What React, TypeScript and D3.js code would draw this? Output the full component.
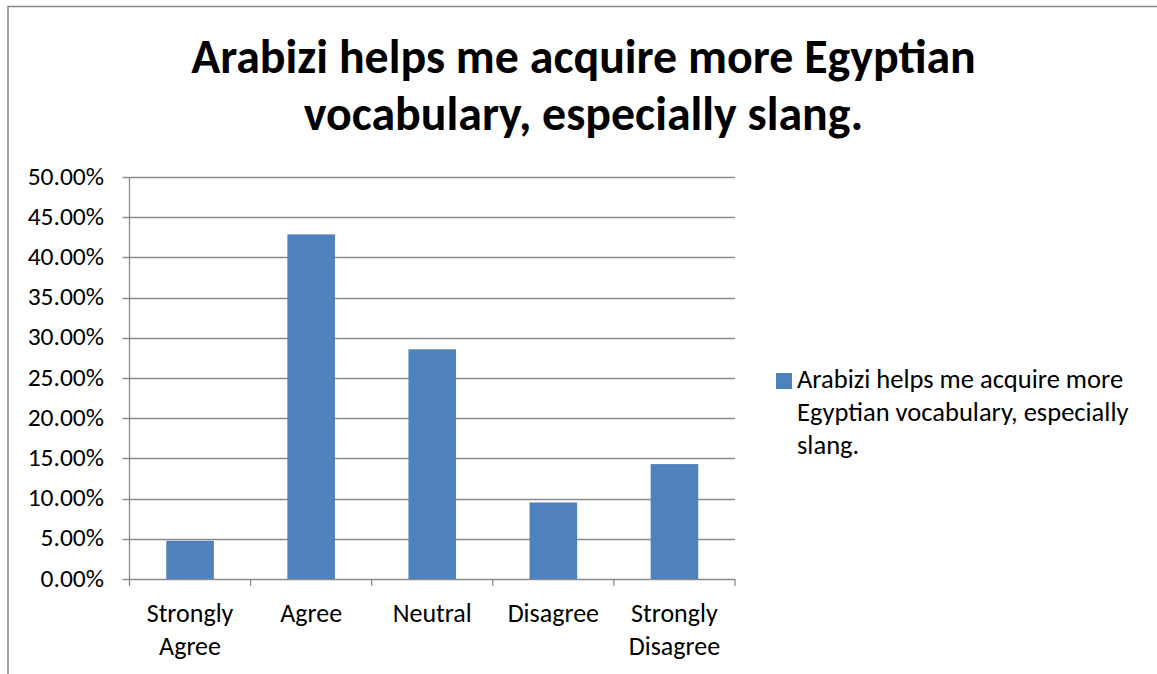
import React from "react";
import * as d3 from "d3";

const categories = ["Strongly Agree", "Agree", "Neutral", "Disagree", "Strongly Disagree"];
const categoryLines = [["Strongly", "Agree"], ["Agree"], ["Neutral"], ["Disagree"], ["Strongly", "Disagree"]];
const values = [0.0476, 0.4286, 0.2857, 0.0952, 0.1429];
const yTicks = [0, 0.05, 0.1, 0.15, 0.2, 0.25, 0.3, 0.35, 0.4, 0.45, 0.5];
const seriesName = "Arabizi helps me acquire more Egyptian vocabulary, especially slang.";
const titleLines = ["Arabizi helps me acquire more Egyptian", "vocabulary, especially slang."];
const legendLines = ["Arabizi helps me acquire more", "Egyptian vocabulary, especially", "slang."];

const W = 1157;
const H = 674;
const FONT = "Carlito, Calibri, Lato, 'Open Sans', 'Noto Sans', sans-serif";

export default function App() {
  const left = 129.5;
  const right = 735;
  const top = 177;
  const bottom = 579;
  const x = d3.scaleBand<string>().domain(categories).range([left, right]).paddingInner(0).paddingOuter(0);
  const y = d3.scaleLinear().domain([0, 0.5]).range([bottom, top]);
  const bw = x.bandwidth() * 0.393;
  const fmt = (v: number) => (v * 100).toFixed(2) + "%";
  const grid = "#8c8c8c";
  const barColor = "#4f81bd";

  return (
    <svg width={W} height={H} style={{ position: "absolute", left: 0, top: 0 }} fontFamily={FONT}>
      <rect x={0} y={0} width={W} height={H} fill="#fff" />
      <rect x={8} y={6.5} width={W + 10} height={H + 10} fill="none" stroke="#878787" strokeWidth={1.5} />
      {titleLines.map((t, i) => (
        <text key={i} x={583.5} y={73 + i * 57} textAnchor="middle" fontWeight="bold" fontSize={47.9} fill="#000">
          {t}
        </text>
      ))}
      {yTicks.map((t) => (
        <g key={t}>
          <line x1={left - 7} x2={right} y1={Math.round(y(t)) + 0.5} y2={Math.round(y(t)) + 0.5} stroke={grid} strokeWidth={1.3} />
          <text x={104} y={y(t) + 7.5} textAnchor="end" fontSize={25.5} fill="#000">
            {fmt(t)}
          </text>
        </g>
      ))}
      {categories.map((c, i) => (
        <rect key={c} x={x(c)! + (x.bandwidth() - bw) / 2} y={y(values[i])} width={bw} height={bottom - y(values[i])} fill={barColor} />
      ))}
      <line x1={left} x2={left} y1={top} y2={bottom} stroke={grid} strokeWidth={1.3} />
      {[...categories.map((c) => x(c)!), right].map((px, i) => (
        <line key={i} x1={px} x2={px} y1={bottom} y2={bottom + 7} stroke={grid} strokeWidth={1.3} />
      ))}
      {categories.map((c, i) =>
        categoryLines[i].map((l, j) => (
          <text key={c + j} x={x(c)! + x.bandwidth() / 2} y={621.5 + j * 33.5} textAnchor="middle" fontSize={26} fill="#000">
            {l}
          </text>
        ))
      )}
      <rect x={776} y={373} width={16} height={16} fill={barColor}>
        <title>{seriesName}</title>
      </rect>
      {legendLines.map((l, i) => (
        <text key={i} x={797} y={388 + i * 33} fontSize={26.5} fill="#000">
          {l}
        </text>
      ))}
    </svg>
  );
}
